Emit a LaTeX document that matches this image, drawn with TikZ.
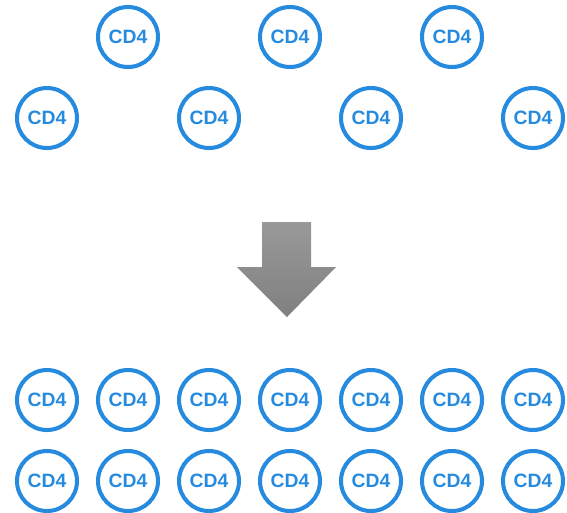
\documentclass[tikz,border=0pt]{standalone}
\usepackage{fontspec}
\setsansfont{Liberation Sans}
\usepackage{xcolor}
\usetikzlibrary{calc}

\definecolor{cdblue}{RGB}{38,139,222}
\tikzset{
  cell/.style={circle,draw=cdblue,line width=2.3pt,minimum size=1.2cm,inner sep=0pt,
    text=cdblue,font=\sffamily\bfseries\fontsize{11}{13}\selectfont},
}

\begin{document}
\begin{tikzpicture}[x=0.02cm,y=-0.02cm]
\useasboundingbox (0,0) rectangle (567,512);

\node[cell] (t1) at (128,37) {CD4};		% obere Reihe
\node[cell] (t2) at (290,37) {CD4};
\node[cell] (t3) at (452,37) {CD4};

\node[cell] (s1) at (47,118) {CD4};		% zweite Reihe
\node[cell] (s2) at (209,118) {CD4};
\node[cell] (s3) at (371,118) {CD4};
\node[cell] (s4) at (533,118) {CD4};

\shade[top color=gray!80,bottom color=gray] (262,222) -- (311,222) -- (311,267) -- (336,267)
  -- (287,317) -- (237,267) -- (262,267) -- cycle;			% Pfeil nach unten

\foreach \i in {1,...,7} {
  \node[cell] (a\i) at ({47+81*(\i-1)},400) {CD4};			% untere Reihe oben
  \node[cell] (b\i) at ({47+81*(\i-1)},481) {CD4};			% untere Reihe unten
}

\end{tikzpicture}
\end{document}
